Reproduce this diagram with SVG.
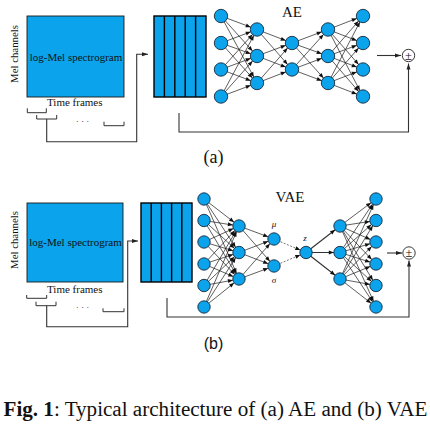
<svg xmlns="http://www.w3.org/2000/svg" width="430" height="430" viewBox="0 0 430 430">
<style>
.bg{fill:#fff}
.blue{fill:#0AA3EC;stroke:#1a1a1a;stroke-width:0.9}
.blk{fill:#0AA3EC;stroke:#000;stroke-width:1.4}
.n{fill:#0AA3EC;stroke:#1a2a3a;stroke-width:0.9}
.ea{stroke:#1a1a1a;stroke-width:0.7;fill:none;marker-end:url(#ahA)}
.ev{stroke:#1a1a1a;stroke-width:0.7;fill:none;marker-end:url(#ahV)}
.ed{stroke:#555;stroke-width:0.8;fill:none;stroke-dasharray:2 1.5;marker-end:url(#ahV)}
.ez{stroke:#333;stroke-width:1.1;fill:none;marker-end:url(#ahV)}
.conn{stroke:#333;stroke-width:1.1;fill:none}
.brk{stroke:#333;stroke-width:1;fill:none}
.serif{font-family:"Liberation Serif","DejaVu Serif",serif;fill:#111}
.pm{fill:#fff;stroke:#222;stroke-width:0.9}
</style>
<defs>
<marker id="ahA" markerUnits="userSpaceOnUse" markerWidth="5" markerHeight="4" refX="11.7" refY="2" orient="auto" overflow="visible"><path d="M0,0 L5,2 L0,4 z" fill="#111"/></marker>
<marker id="ahV" markerUnits="userSpaceOnUse" markerWidth="5" markerHeight="4" refX="11.2" refY="2" orient="auto" overflow="visible"><path d="M0,0 L5,2 L0,4 z" fill="#111"/></marker>
<marker id="ah" markerUnits="userSpaceOnUse" markerWidth="6" markerHeight="4" refX="6" refY="2" orient="auto" overflow="visible"><path d="M0,0 L6,2 L0,4 z" fill="#222"/></marker>
</defs>
<rect class="bg" x="0" y="0" width="430" height="430"/>

<!-- ===== (a) AE ===== -->
<g id="specA">
<rect class="blue" x="27" y="16" width="97" height="81"/>
<text class="serif" x="76" y="61" font-size="11" text-anchor="middle">log-Mel spectrogram</text>
<text class="serif" x="0" y="0" font-size="10.8" text-anchor="middle" transform="translate(18,54) rotate(-90)">Mel channels</text>
<text class="serif" x="47" y="106" font-size="11">Time frames</text>
<path class="brk" d="M27.3,108.3 V112.7 H46.3 V108.3"/>
<path class="brk" d="M36.7,115 V119 H56.7 V115"/>
<path class="brk" d="M104,121.7 V125.7 H124 V121.7"/>
<text class="serif" x="82.5" y="124" font-size="9" text-anchor="middle" fill="#666">· · ·</text>
</g>
<g id="framesA">
<rect class="blk" x="154" y="16" width="52" height="81"/>
<line x1="164.4" y1="16" x2="164.4" y2="97" stroke="#000" stroke-width="1.4"/>
<line x1="174.8" y1="16" x2="174.8" y2="97" stroke="#000" stroke-width="1.4"/>
<line x1="185.2" y1="16" x2="185.2" y2="97" stroke="#000" stroke-width="1.4"/>
<line x1="195.6" y1="16" x2="195.6" y2="97" stroke="#000" stroke-width="1.4"/>
</g>
<text class="serif" x="292" y="17" font-size="15" text-anchor="middle">AE</text>
<g id="connectorsA">
<path class="conn" d="M46.7,119 V141.7 H136.7 V54.3 H148" marker-end="url(#ah)"/>
<path class="conn" d="M179,113 V132 H408.5 V63.5" marker-end="url(#ah)"/>
<line class="conn" x1="377" y1="55.5" x2="401" y2="55.5" marker-end="url(#ah)"/>
<line class="ea" x1="221" y1="16" x2="257" y2="29.5"/>
<line class="ea" x1="221" y1="16" x2="257" y2="56"/>
<line class="ea" x1="221" y1="16" x2="257" y2="83"/>
<line class="ea" x1="221" y1="43" x2="257" y2="29.5"/>
<line class="ea" x1="221" y1="43" x2="257" y2="56"/>
<line class="ea" x1="221" y1="43" x2="257" y2="83"/>
<line class="ea" x1="221" y1="69.5" x2="257" y2="29.5"/>
<line class="ea" x1="221" y1="69.5" x2="257" y2="56"/>
<line class="ea" x1="221" y1="69.5" x2="257" y2="83"/>
<line class="ea" x1="221" y1="96.5" x2="257" y2="29.5"/>
<line class="ea" x1="221" y1="96.5" x2="257" y2="56"/>
<line class="ea" x1="221" y1="96.5" x2="257" y2="83"/>
<line class="ea" x1="257" y1="29.5" x2="292" y2="43"/>
<line class="ea" x1="257" y1="29.5" x2="292" y2="69.5"/>
<line class="ea" x1="257" y1="56" x2="292" y2="43"/>
<line class="ea" x1="257" y1="56" x2="292" y2="69.5"/>
<line class="ea" x1="257" y1="83" x2="292" y2="43"/>
<line class="ea" x1="257" y1="83" x2="292" y2="69.5"/>
<line class="ea" x1="292" y1="43" x2="328" y2="29.5"/>
<line class="ea" x1="292" y1="43" x2="328" y2="56"/>
<line class="ea" x1="292" y1="43" x2="328" y2="83"/>
<line class="ea" x1="292" y1="69.5" x2="328" y2="29.5"/>
<line class="ea" x1="292" y1="69.5" x2="328" y2="56"/>
<line class="ea" x1="292" y1="69.5" x2="328" y2="83"/>
<line class="ea" x1="328" y1="29.5" x2="363" y2="16"/>
<line class="ea" x1="328" y1="29.5" x2="363" y2="43"/>
<line class="ea" x1="328" y1="29.5" x2="363" y2="69.5"/>
<line class="ea" x1="328" y1="29.5" x2="363" y2="96.5"/>
<line class="ea" x1="328" y1="56" x2="363" y2="16"/>
<line class="ea" x1="328" y1="56" x2="363" y2="43"/>
<line class="ea" x1="328" y1="56" x2="363" y2="69.5"/>
<line class="ea" x1="328" y1="56" x2="363" y2="96.5"/>
<line class="ea" x1="328" y1="83" x2="363" y2="16"/>
<line class="ea" x1="328" y1="83" x2="363" y2="43"/>
<line class="ea" x1="328" y1="83" x2="363" y2="69.5"/>
<line class="ea" x1="328" y1="83" x2="363" y2="96.5"/>
</g>
<g id="nodesA">
<circle class="n" cx="221" cy="16" r="6.7"/><circle class="n" cx="221" cy="43" r="6.7"/><circle class="n" cx="221" cy="69.5" r="6.7"/><circle class="n" cx="221" cy="96.5" r="6.7"/>
<circle class="n" cx="257" cy="29.5" r="6.7"/><circle class="n" cx="257" cy="56" r="6.7"/><circle class="n" cx="257" cy="83" r="6.7"/>
<circle class="n" cx="292" cy="43" r="6.7"/><circle class="n" cx="292" cy="69.5" r="6.7"/>
<circle class="n" cx="328" cy="29.5" r="6.7"/><circle class="n" cx="328" cy="56" r="6.7"/><circle class="n" cx="328" cy="83" r="6.7"/>
<circle class="n" cx="363" cy="16" r="6.7"/><circle class="n" cx="363" cy="43" r="6.7"/><circle class="n" cx="363" cy="69.5" r="6.7"/><circle class="n" cx="363" cy="96.5" r="6.7"/>
</g>
<g id="pmA">
<circle class="pm" cx="408.5" cy="55.5" r="6.2"/>
<text class="serif" x="408.5" y="59.8" font-size="12.5" text-anchor="middle">±</text>
</g>
<text class="serif" x="213.5" y="163" font-size="18" text-anchor="middle">(a)</text>

<!-- ===== (b) VAE ===== -->
<g id="specB">
<rect class="blue" x="27" y="203" width="96" height="79"/>
<text class="serif" x="75.5" y="246" font-size="11" text-anchor="middle">log-Mel spectrogram</text>
<text class="serif" x="0" y="0" font-size="10.8" text-anchor="middle" transform="translate(18,240) rotate(-90)">Mel channels</text>
<text class="serif" x="47" y="293" font-size="11">Time frames</text>
<path class="brk" d="M26.7,295 V298.3 H46.7 V295"/>
<path class="brk" d="M36,301.7 V305.7 H56 V301.7"/>
<path class="brk" d="M103,308.3 V311.7 H124 V308.3"/>
<text class="serif" x="82.5" y="310" font-size="9" text-anchor="middle" fill="#666">· · ·</text>
</g>
<g id="framesB">
<rect class="blk" x="141" y="203" width="51" height="79"/>
<line x1="151.2" y1="203" x2="151.2" y2="282" stroke="#000" stroke-width="1.4"/>
<line x1="161.4" y1="203" x2="161.4" y2="282" stroke="#000" stroke-width="1.4"/>
<line x1="171.6" y1="203" x2="171.6" y2="282" stroke="#000" stroke-width="1.4"/>
<line x1="181.8" y1="203" x2="181.8" y2="282" stroke="#000" stroke-width="1.4"/>
</g>
<text class="serif" x="290" y="202" font-size="15" text-anchor="middle">VAE</text>
<g id="connectorsB">
<path class="conn" d="M46.7,305.7 V326.7 H127.7 V241 H138" marker-end="url(#ah)"/>
<path class="conn" d="M167,298 V317 H409 V260.5" marker-end="url(#ah)"/>
<line class="conn" x1="387" y1="253" x2="402" y2="253" marker-end="url(#ah)"/>
<line class="ev" x1="204" y1="199" x2="239" y2="226"/><line class="ev" x1="204" y1="199" x2="239" y2="252.5"/><line class="ev" x1="204" y1="199" x2="239" y2="279"/>
<line class="ev" x1="204" y1="220.5" x2="239" y2="226"/><line class="ev" x1="204" y1="220.5" x2="239" y2="252.5"/><line class="ev" x1="204" y1="220.5" x2="239" y2="279"/>
<line class="ev" x1="204" y1="242" x2="239" y2="226"/><line class="ev" x1="204" y1="242" x2="239" y2="252.5"/><line class="ev" x1="204" y1="242" x2="239" y2="279"/>
<line class="ev" x1="204" y1="264" x2="239" y2="226"/><line class="ev" x1="204" y1="264" x2="239" y2="252.5"/><line class="ev" x1="204" y1="264" x2="239" y2="279"/>
<line class="ev" x1="204" y1="285.5" x2="239" y2="226"/><line class="ev" x1="204" y1="285.5" x2="239" y2="252.5"/><line class="ev" x1="204" y1="285.5" x2="239" y2="279"/>
<line class="ev" x1="204" y1="307" x2="239" y2="226"/><line class="ev" x1="204" y1="307" x2="239" y2="252.5"/><line class="ev" x1="204" y1="307" x2="239" y2="279"/>
<line class="ev" x1="239" y1="226" x2="274" y2="239"/><line class="ev" x1="239" y1="226" x2="274" y2="266"/>
<line class="ev" x1="239" y1="252.5" x2="274" y2="239"/><line class="ev" x1="239" y1="252.5" x2="274" y2="266"/>
<line class="ev" x1="239" y1="279" x2="274" y2="239"/><line class="ev" x1="239" y1="279" x2="274" y2="266"/>
<line class="ed" x1="274" y1="239" x2="306" y2="252.5"/>
<line class="ed" x1="274" y1="266" x2="306" y2="252.5"/>
<line class="ez" x1="306" y1="252.5" x2="340" y2="226"/>
<line class="ez" x1="306" y1="252.5" x2="340" y2="252.5"/>
<line class="ez" x1="306" y1="252.5" x2="340" y2="279"/>
<line class="ev" x1="340" y1="226" x2="376" y2="199"/><line class="ev" x1="340" y1="226" x2="376" y2="220.5"/><line class="ev" x1="340" y1="226" x2="376" y2="242"/><line class="ev" x1="340" y1="226" x2="376" y2="264"/><line class="ev" x1="340" y1="226" x2="376" y2="285.5"/><line class="ev" x1="340" y1="226" x2="376" y2="307"/>
<line class="ev" x1="340" y1="252.5" x2="376" y2="199"/><line class="ev" x1="340" y1="252.5" x2="376" y2="220.5"/><line class="ev" x1="340" y1="252.5" x2="376" y2="242"/><line class="ev" x1="340" y1="252.5" x2="376" y2="264"/><line class="ev" x1="340" y1="252.5" x2="376" y2="285.5"/><line class="ev" x1="340" y1="252.5" x2="376" y2="307"/>
<line class="ev" x1="340" y1="279" x2="376" y2="199"/><line class="ev" x1="340" y1="279" x2="376" y2="220.5"/><line class="ev" x1="340" y1="279" x2="376" y2="242"/><line class="ev" x1="340" y1="279" x2="376" y2="264"/><line class="ev" x1="340" y1="279" x2="376" y2="285.5"/><line class="ev" x1="340" y1="279" x2="376" y2="307"/>
</g>
<g id="nodesB">
<circle class="n" cx="204" cy="199" r="6.2"/><circle class="n" cx="204" cy="220.5" r="6.2"/><circle class="n" cx="204" cy="242" r="6.2"/><circle class="n" cx="204" cy="264" r="6.2"/><circle class="n" cx="204" cy="285.5" r="6.2"/><circle class="n" cx="204" cy="307" r="6.2"/>
<circle class="n" cx="239" cy="226" r="6.2"/><circle class="n" cx="239" cy="252.5" r="6.2"/><circle class="n" cx="239" cy="279" r="6.2"/>
<circle class="n" cx="274" cy="239" r="6.2"/><circle class="n" cx="274" cy="266" r="6.2"/>
<circle class="n" cx="306" cy="252.5" r="6.2"/>
<circle class="n" cx="340" cy="226" r="6.2"/><circle class="n" cx="340" cy="252.5" r="6.2"/><circle class="n" cx="340" cy="279" r="6.2"/>
<circle class="n" cx="376" cy="199" r="6.2"/><circle class="n" cx="376" cy="220.5" r="6.2"/><circle class="n" cx="376" cy="242" r="6.2"/><circle class="n" cx="376" cy="264" r="6.2"/><circle class="n" cx="376" cy="285.5" r="6.2"/><circle class="n" cx="376" cy="307" r="6.2"/>
<text class="serif" x="274" y="227" font-size="9" font-style="italic" text-anchor="middle">μ</text>
<text class="serif" x="274" y="283" font-size="9" font-style="italic" text-anchor="middle">σ</text>
<text class="serif" x="305" y="241" font-size="9" font-style="italic" text-anchor="middle">z</text>
</g>
<g id="pmB">
<circle class="pm" cx="409" cy="253" r="6.2"/>
<text class="serif" x="409" y="257.3" font-size="12.5" text-anchor="middle">±</text>
</g>
<text x="213.5" y="348.5" font-size="16" text-anchor="middle" font-family="'Liberation Sans','DejaVu Sans',sans-serif" fill="#111">(b)</text>

<text class="serif" x="3.5" y="416" font-size="21.1"><tspan font-weight="bold">Fig. 1</tspan>: Typical architecture of (a) AE and (b) VAE</text>
</svg>
